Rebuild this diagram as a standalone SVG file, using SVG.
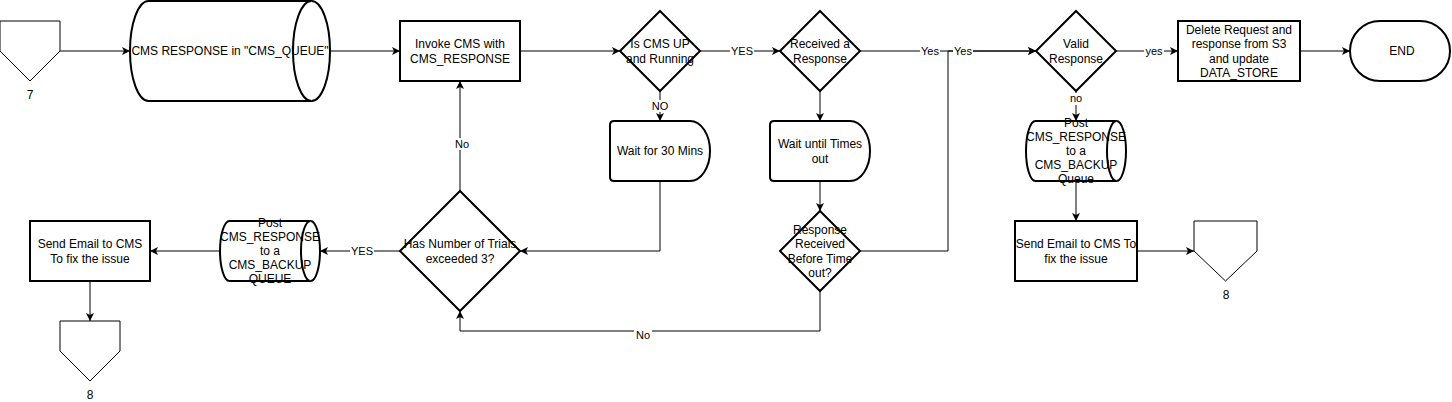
<svg xmlns="http://www.w3.org/2000/svg" width="1452" height="402" viewBox="0 0 1452 402">
<style>
.n{fill:#fff;stroke:#000;stroke-width:2}
.o{fill:#fff;stroke:#000;stroke-width:1}
.t{font-family:"Liberation Sans",Arial,sans-serif;font-size:12px;fill:#000;text-anchor:middle}
.e{fill:none;stroke:#000;stroke-width:1}
.l{font-family:"Liberation Sans",Arial,sans-serif;font-size:11px;fill:#000;text-anchor:middle}
.lb{fill:#fff}
</style>
<defs>
<marker id="a" markerUnits="userSpaceOnUse" markerWidth="10" markerHeight="10" refX="8" refY="4" orient="auto">
<path d="M0,0 L8,4 L0,8 L2,4 Z" fill="#000"/>
</marker>
</defs>
<rect width="1452" height="402" fill="#fff"/>
<g id="connectors">
<path class="e" d="M60,51H130" marker-end="url(#a)"/>
<path class="e" d="M330,51H400" marker-end="url(#a)"/>
<path class="e" d="M520,51H620" marker-end="url(#a)"/>
<path class="e" d="M700,51H780" marker-end="url(#a)"/>
<path class="e" d="M660,91V121" marker-end="url(#a)"/>
<path class="e" d="M860,51H1036" marker-end="url(#a)"/>
<path class="e" d="M860,251H948V51H1036" marker-end="url(#a)"/>
<path class="e" d="M820,91V121" marker-end="url(#a)"/>
<path class="e" d="M820,181V211" marker-end="url(#a)"/>
<path class="e" d="M820,291V331H460V311" marker-end="url(#a)"/>
<path class="e" d="M660,181V251H520" marker-end="url(#a)"/>
<path class="e" d="M460,191V81" marker-end="url(#a)"/>
<path class="e" d="M400,251H320" marker-end="url(#a)"/>
<path class="e" d="M220,251H150" marker-end="url(#a)"/>
<path class="e" d="M90,281V321" marker-end="url(#a)"/>
<path class="e" d="M1076,91V121" marker-end="url(#a)"/>
<path class="e" d="M1116,51H1178" marker-end="url(#a)"/>
<path class="e" d="M1300,51H1350" marker-end="url(#a)"/>
<path class="e" d="M1076,181V221" marker-end="url(#a)"/>
<path class="e" d="M1137,251H1194" marker-end="url(#a)"/>
<rect class="lb" x="730" y="45" width="24" height="12"/><text class="l" x="742" y="55">YES</text>
<rect class="lb" x="651" y="100" width="18" height="12"/><text class="l" x="660" y="110">NO</text>
<rect class="lb" x="920" y="45" width="20" height="12"/><text class="l" x="930" y="55">Yes</text>
<rect class="lb" x="953" y="45" width="20" height="12"/><text class="l" x="963" y="55">Yes</text>
<rect class="lb" x="634" y="329" width="18" height="12"/><text class="l" x="643" y="339">No</text>
<rect class="lb" x="453" y="138" width="18" height="12"/><text class="l" x="462" y="148">No</text>
<rect class="lb" x="350" y="245" width="24" height="12"/><text class="l" x="362" y="255">YES</text>
<rect class="lb" x="1068" y="93" width="16" height="12"/><text class="l" x="1076" y="102">no</text>
<rect class="lb" x="1144" y="45" width="20" height="12"/><text class="l" x="1154" y="55">yes</text>
</g>
<g id="offpage7">
<path class="o" d="M0,21H60V51L30,81L0,51Z"/>
<text class="t" x="30" y="99">7</text>
</g>
<g id="cms-queue">
<path class="n" d="M148.5,1H311.5A18.5,50 0 0 1 311.5,101H148.5A18.5,50 0 0 1 148.5,1Z"/>
<path class="n" d="M311.5,1A18.5,50 0 0 0 311.5,101" fill="none"/>
<text class="t" x="230" y="55">CMS RESPONSE in "CMS_QUEUE"</text>
</g>
<g id="invoke">
<rect class="n" x="400" y="21" width="120" height="60"/>
<text class="t" x="460" y="48">Invoke CMS with</text>
<text class="t" x="460" y="63">CMS_RESPONSE</text>
</g>
<g id="cms-up">
<path class="n" d="M660,11L700,51L660,91L620,51Z"/>
<text class="t" x="660" y="48">Is CMS UP</text>
<text class="t" x="660" y="63">and Running</text>
</g>
<g id="received">
<path class="n" d="M820,11L860,51L820,91L780,51Z"/>
<text class="t" x="820" y="48">Received a</text>
<text class="t" x="820" y="63">Response</text>
</g>
<g id="valid">
<path class="n" d="M1076,11L1116,51L1076,91L1036,51Z"/>
<text class="t" x="1076" y="48">Valid</text>
<text class="t" x="1076" y="63">Response</text>
</g>
<g id="delete">
<rect class="n" x="1178" y="21" width="122" height="60"/>
<text class="t" x="1239" y="34">Delete Request and</text>
<text class="t" x="1239" y="48">response from S3</text>
<text class="t" x="1239" y="63">and update</text>
<text class="t" x="1239" y="77">DATA_STORE</text>
</g>
<g id="end">
<rect class="n" x="1350" y="21" width="100" height="60" rx="30" ry="30"/>
<text class="t" x="1402" y="55">END</text>
</g>
<g id="wait30">
<path class="n" d="M614,121H690A20,30 0 0 1 690,181H614Q610,181 610,177V125Q610,121 614,121Z"/>
<text class="t" x="660" y="155">Wait for 30 Mins</text>
</g>
<g id="wait-timeout">
<path class="n" d="M774,121H850A20,30 0 0 1 850,181H774Q770,181 770,177V125Q770,121 774,121Z"/>
<text class="t" x="820" y="148">Wait until Times</text>
<text class="t" x="820" y="163">out</text>
</g>
<g id="trials">
<path class="n" d="M460,191L520,251L460,311L400,251Z"/>
<text class="t" x="460" y="248">Has Number of Trials</text>
<text class="t" x="460" y="263">exceeded 3?</text>
</g>
<g id="before-timeout">
<path class="n" d="M820,211L860,251L820,291L780,251Z"/>
<text class="t" x="820" y="234">Response</text>
<text class="t" x="820" y="248">Received</text>
<text class="t" x="820" y="263">Before Time</text>
<text class="t" x="820" y="277">out?</text>
</g>
<g id="backup-queue-left">
<path class="n" d="M229.5,221H310.5A9.5,30 0 0 1 310.5,281H229.5A9.5,30 0 0 1 229.5,221Z"/>
<path class="n" d="M310.5,221A9.5,30 0 0 0 310.5,281" fill="none"/>
<text class="t" x="270" y="227">Post</text>
<text class="t" x="270" y="241">CMS_RESPONSE</text>
<text class="t" x="270" y="255">to a</text>
<text class="t" x="270" y="269">CMS_BACKUP</text>
<text class="t" x="270" y="283">QUEUE</text>
</g>
<g id="email-left">
<rect class="n" x="30" y="221" width="120" height="60"/>
<text class="t" x="90" y="248">Send Email to CMS</text>
<text class="t" x="90" y="263">To fix the issue</text>
</g>
<g id="offpage8-left">
<path class="o" d="M60,321H120V351L90,381L60,351Z"/>
<text class="t" x="90" y="399">8</text>
</g>
<g id="backup-queue-right">
<path class="n" d="M1035.5,121H1116.5A9.5,30 0 0 1 1116.5,181H1035.5A9.5,30 0 0 1 1035.5,121Z"/>
<path class="n" d="M1116.5,121A9.5,30 0 0 0 1116.5,181" fill="none"/>
<text class="t" x="1076" y="127">Post</text>
<text class="t" x="1076" y="141">CMS_RESPONSE</text>
<text class="t" x="1076" y="155">to a</text>
<text class="t" x="1076" y="169">CMS_BACKUP</text>
<text class="t" x="1076" y="183">Queue</text>
</g>
<g id="email-right">
<rect class="n" x="1015" y="221" width="122" height="60"/>
<text class="t" x="1076" y="248">Send Email to CMS To</text>
<text class="t" x="1076" y="263">fix the issue</text>
</g>
<g id="offpage8-right">
<path class="o" d="M1194,221H1257V251L1225.5,281L1194,251Z"/>
<text class="t" x="1226" y="299">8</text>
</g>
</svg>
